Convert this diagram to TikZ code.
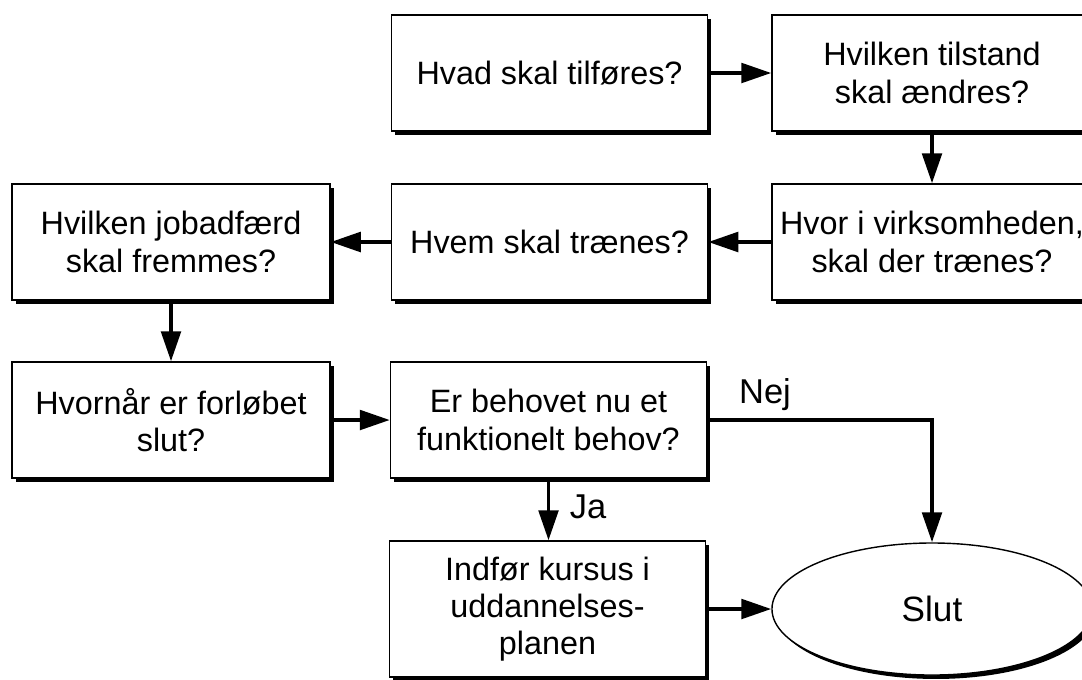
\documentclass[tikz,border=0pt]{standalone}
\usepackage{fontspec}
\setmainfont{Liberation Sans}
\usetikzlibrary{arrows.meta,shadows,shapes.geometric}

\tikzset{
	boks/.style={draw, line width=1pt, fill=white, align=center, inner sep=0pt,
		drop shadow={fill=black, opacity=1, shadow xshift=2.8pt, shadow yshift=-2.8pt},
		font=\fontsize{23}{26.5}\selectfont},
	pil/.style={line width=2.6pt, -{Triangle[length=7.5mm,width=4.9mm]}},
	svar/.style={anchor=base, inner sep=0pt, font=\fontsize{24.5}{28}\selectfont},
}

\begin{document}
\begin{tikzpicture}[x=0.025cm, y=-0.025cm]
			%%%%% START %%%%%
			
			\useasboundingbox (0, 0) rectangle (1082, 679);
			
			\node[boks, minimum width=7.9cm, minimum height=2.9cm] (hvad) at (549.5, 73) {Hvad skal tilføres?};
			\node[boks, minimum width=8cm, minimum height=2.9cm] (tilstand) at (932, 73) {Hvilken tilstand\\skal ændres?};
			
			\node[boks, minimum width=8cm, minimum height=2.9cm] (hvor) at (932, 242) {Hvor i virksomheden,\\skal der trænes?};
			\node[boks, minimum width=7.9cm, minimum height=2.9cm] (hvem) at (549.5, 242) {Hvem skal trænes?};
			\node[boks, minimum width=7.95cm, minimum height=2.9cm] (jobadf) at (171, 242) {Hvilken jobadfærd\\skal fremmes?};
			
			\node[boks, minimum width=7.95cm, minimum height=2.9cm] (hvornaar) at (171, 420) {Hvornår er forløbet\\slut?};
			\node[boks, minimum width=7.9cm, minimum height=2.9cm] (behov) at (548.5, 420) {Er behovet nu et\\funktionelt behov?};
			
			\node[boks, minimum width=7.9cm, minimum height=3.4cm] (kursus) at (547.5, 609) {Indfør kursus i\\uddannelses-\\planen};
			\node[boks, ellipse, minimum width=8cm, minimum height=3.3cm, font=\fontsize{25}{28}\selectfont] (slut) at (932, 609) {Slut};
			
			\draw[pil] (hvad) -- (tilstand);
			\draw[pil] (tilstand) -- (hvor);
			\draw[pil] (hvor) -- (hvem);
			\draw[pil] (hvem) -- (jobadf);
			\draw[pil] (jobadf) -- (hvornaar);
			\draw[pil] (hvornaar) -- (behov);
			\draw[pil] (behov.east) -| (slut.north);
			\draw[pil] (behov.south) -- (behov.south |- kursus.north);
			\draw[pil] (kursus.east) -- (slut.west);
			
			\node[svar] (nej) at (765, 403) {Nej};
			\node[svar] (ja) at (588, 518) {Ja};
			
			%%%%% END %%%%%
\end{tikzpicture}
\end{document}
